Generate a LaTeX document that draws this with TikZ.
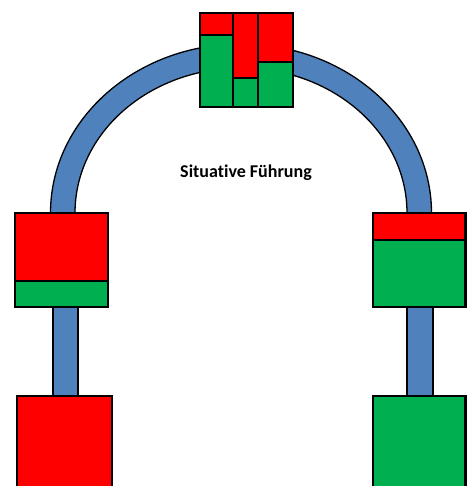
\documentclass[tikz,border=0pt]{standalone}
\usepackage{fontspec}
\setmainfont[Ligatures={NoCommon}]{Carlito}
\definecolor{myred}{RGB}{255,0,0}
\definecolor{mygreen}{RGB}{0,176,80}
\definecolor{myblue}{RGB}{79,129,189}
\begin{document}
\begin{tikzpicture}[x=1pt,y=-1pt,
  boxline/.style={draw=black,line width=2.4pt},
  sepline/.style={draw=black,line width=2pt},
  barstyle/.style={fill=myblue,draw=black,line width=1.3pt}]
\useasboundingbox (0,0) rectangle (467,486);
\clip (0,0) rectangle (467,486);
% arch band
\path[barstyle] (50.5,213) arc[start angle=180,end angle=360,x radius=190.5,y radius=169]
  -- (407,213) arc[start angle=360,end angle=180,x radius=166,y radius=145] -- cycle;
% vertical bars
\path[barstyle] (53,300) rectangle (78,400);
\path[barstyle] (407,300) rectangle (433,400);
% top box
\fill[myred] (200,13) rectangle (293,107);
\fill[mygreen] (200,35) rectangle (233,107);
\fill[mygreen] (233,78) rectangle (258,107);
\fill[mygreen] (258,62) rectangle (293,107);
\draw[sepline] (233,13) -- (233,107) (258,13) -- (258,107)
  (200,35) -- (233,35) (233,78) -- (258,78) (258,62) -- (293,62);
\draw[boxline] (200,13) rectangle (293,107);
% left middle box
\fill[myred] (15,213) rectangle (108,281);
\fill[mygreen] (15,281) rectangle (108,307);
\draw[sepline] (15,281) -- (108,281);
\draw[boxline] (15,213) rectangle (108,307);
% right middle box
\fill[myred] (373,213) rectangle (465.5,240);
\fill[mygreen] (373,240) rectangle (465.5,307);
\draw[sepline] (373,240) -- (465.5,240);
\draw[boxline] (373,213) rectangle (465.5,307);
% bottom boxes
\draw[boxline,fill=myred] (17,396) rectangle (112,495);
\draw[boxline,fill=mygreen] (373,396) rectangle (465.5,495);
% label
\node[font=\bfseries\fontsize{18}{21}\selectfont] (title) at (246,173) {Situative Führung};
\end{tikzpicture}
\end{document}
